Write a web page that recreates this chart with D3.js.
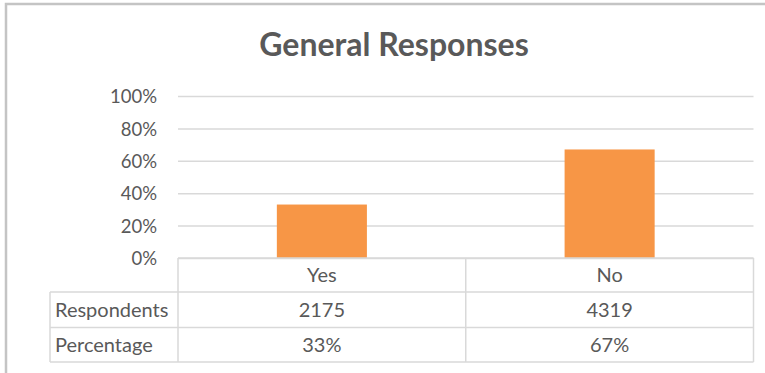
<!DOCTYPE html>
<html>
<head>
<meta charset="utf-8">
<script src="https://cdn.jsdelivr.net/npm/d3@7"></script>
<style>
  html, body { margin: 0; padding: 0; background: #fff; }
  svg { display: block; font-family: Lato, "Open Sans", sans-serif; }
</style>
</head>
<body>
<svg id="chart" width="765" height="373"></svg>
<script>
// Survey answers and their shares
const categories = ["Yes", "No"];
const respondents = [2175, 4319];
const percentages = [33, 67];
const yTicks = [0, 20, 40, 60, 80, 100];
const rowLabels = ["Respondents", "Percentage"];

const W = 765, H = 373;
const svg = d3.select("#chart");
const textColor = "#595959";
const lineColor = "#d9d9d9";

// outer chart frame
svg.append("rect")
  .attr("x", 6).attr("y", 4)
  .attr("width", W + 20).attr("height", H + 20)
  .attr("fill", "#fff")
  .attr("stroke", "#c4c4c4")
  .attr("stroke-width", 2.5);

// plot geometry
const plotL = 178, plotR = 753.5, plotTop = 96, plotBottom = 258;

const x = d3.scaleBand().domain(categories).range([plotL, plotR]).padding(0);
const xBar = d3.scaleBand().domain(categories).range([plotL, plotR])
  .paddingInner(0.687).paddingOuter(0.3435);
const y = d3.scaleLinear().domain([0, 100]).range([plotBottom, plotTop]);

// title
svg.append("text")
  .attr("x", 394).attr("y", 56)
  .attr("text-anchor", "middle")
  .attr("font-weight", "bold")
  .attr("font-size", 32)
  .attr("fill", textColor)
  .text("General Responses");

// horizontal gridlines + y axis labels
const yAxis = d3.axisLeft(y)
  .tickValues(yTicks)
  .tickSize(-(plotR - plotL))
  .tickPadding(21)
  .tickFormat(d => d + "%");

const gy = svg.append("g")
  .attr("transform", `translate(${plotL},0)`)
  .call(yAxis);
gy.select(".domain").remove();
gy.selectAll(".tick line")
  .attr("stroke", lineColor)
  .attr("stroke-width", 1.5);
gy.selectAll(".tick text")
  .attr("fill", textColor)
  .attr("font-size", 18.5)
  .attr("font-family", "Lato, 'Open Sans', sans-serif")
  .attr("dy", "0.36em");

// bars
svg.append("g").selectAll("rect")
  .data(categories)
  .join("rect")
  .attr("x", d => xBar(d))
  .attr("width", xBar.bandwidth())
  .attr("y", (d, i) => y(percentages[i]))
  .attr("height", (d, i) => y(0) - y(percentages[i]))
  .attr("fill", "#F79646");

// data table below the axis
const rowTop = [plotBottom, 292, 327.5];
const rowBottom = 362;
const labelL = 50;
const table = svg.append("g");
const tl = (x1, y1, x2, y2) => table.append("line")
  .attr("x1", x1).attr("y1", y1).attr("x2", x2).attr("y2", y2)
  .attr("stroke", lineColor).attr("stroke-width", 1.5);

tl(plotL, rowTop[0], plotR, rowTop[0]);
tl(labelL, rowTop[1], plotR, rowTop[1]);
tl(labelL, rowTop[2], plotR, rowTop[2]);
tl(labelL, rowBottom, plotR, rowBottom);
tl(labelL, rowTop[1], labelL, rowBottom);
[plotL, ...categories.slice(1).map(c => x(c)), plotR].forEach(px => tl(px, rowTop[0], px, rowBottom));

const rowCenters = [275, 310, 345];
const cellText = (tx, ty, s, anchor) => table.append("text")
  .attr("x", tx).attr("y", ty)
  .attr("dy", "0.36em")
  .attr("text-anchor", anchor)
  .attr("font-size", 20)
  .attr("fill", textColor)
  .text(s);

categories.forEach((c, i) => {
  const cx = x(c) + x.bandwidth() / 2;
  cellText(cx, rowCenters[0], c, "middle");
  cellText(cx, rowCenters[1], respondents[i], "middle");
  cellText(cx, rowCenters[2], percentages[i] + "%", "middle");
});
rowLabels.forEach((r, i) => cellText(55, rowCenters[i + 1], r, "start"));
</script>
</body>
</html>
